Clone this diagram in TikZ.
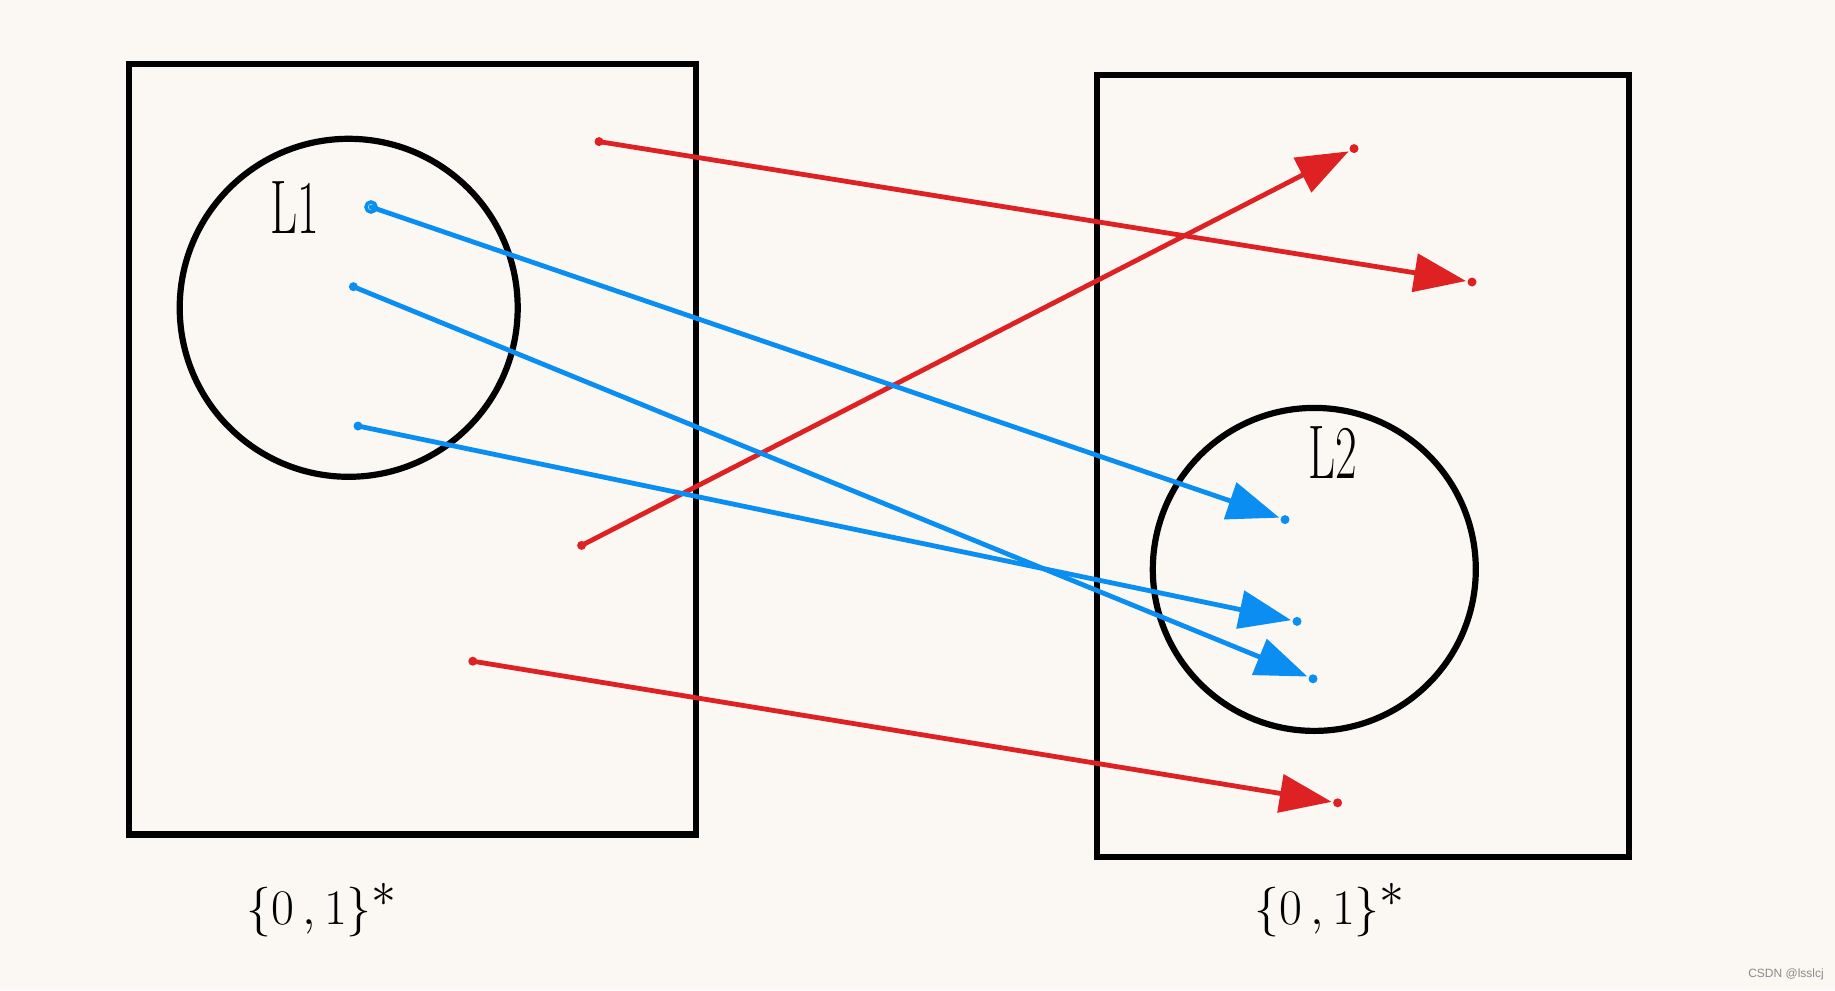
\documentclass[tikz,border=0pt]{standalone}
\usepackage{fontspec}
\newfontfamily\wmfont{Liberation Sans}
\usetikzlibrary{arrows.meta}
\definecolor{bg}{HTML}{FBF8F3}
\definecolor{penred}{HTML}{DE2224}
\definecolor{penblue}{HTML}{0A8EF2}
\definecolor{wmgray}{HTML}{8A8A8A}
\tikzset{
  setbox/.style={draw=black, line width=3.1pt, inner sep=0pt, outer sep=0pt},
  langcirc/.style={draw=black, line width=3.1pt, circle, inner sep=0pt, outer sep=0pt},
  hand/.style={font=\fontsize{38}{38}\selectfont, inner sep=0pt},
  mapred/.style={draw=penred, line width=2.4pt, line cap=round, -{Triangle[length=26pt,width=19pt]}, shorten >=3pt},
  mapblue/.style={draw=penblue, line width=2.4pt, line cap=round, -{Triangle[length=26pt,width=19pt]}, shorten >=3pt},
  penDot/.style={circle, inner sep=0pt, minimum size=4.5pt},
}
\begin{document}
\begin{tikzpicture}[x=0.5pt,y=-0.5pt]
\fill[bg] (0,0) rectangle (1835,990);
\useasboundingbox (0,0) rectangle (1835,990);

% sets
\node[setbox, minimum width=283.8pt, minimum height=385pt] (U1) at (412.5,449.4) {};
\node[setbox, minimum width=266.2pt, minimum height=390.9pt] (U2) at (1362.8,465.8) {};
\node[langcirc, minimum size=169pt] (C1) at (348.7,307.8) {};
\node[langcirc, minimum size=161.5pt] (C2) at (1314.3,569.4) {};

% labels
\node[hand] (L1) at (295,208) {\scalebox{0.62}[1]{L1}};
\node[hand] (L2) at (1333,453) {\scalebox{0.62}[1]{L2}};
\node[hand] (S1) at (322,910) {$\{0\,,1\}^{*}$};
\node[hand] (S2) at (1330,910) {$\{0\,,1\}^{*}$};
\node[font=\wmfont\fontsize{6}{6}\selectfont, text=wmgray, inner sep=0pt] (wm) at (1786,974) {CSDN @lsslcj};

% endpoints
\coordinate (r1s) at (599,141.6);   \coordinate (r1e) at (1472,282);
\coordinate (r2s) at (581.6,545.4); \coordinate (r2e) at (1354,148.6);
\coordinate (r3s) at (472.8,661.2); \coordinate (r3e) at (1337.6,802.8);
\coordinate (b1s) at (371,207);     \coordinate (b1e) at (1285,519.6);
\coordinate (b2s) at (353.4,286.7); \coordinate (b2e) at (1313,678.8);
\coordinate (b3s) at (358,426);     \coordinate (b3e) at (1297,621.4);

% pen dots
\foreach \p in {r1s,r2s,r3s,r1e,r2e,r3e}{\node[penDot, fill=penred] at (\p) {};}
\foreach \p in {b2s,b3s,b1e,b2e,b3e}{\node[penDot, fill=penblue] at (\p) {};}
\node[penDot, draw=penblue, line width=1.8pt, minimum size=5pt] at (b1s) {};

% mappings
\draw[mapred] (r1s) -- (r1e);
\draw[mapred] (r2s) -- (r2e);
\draw[mapred] (r3s) -- (r3e);
\draw[mapblue] (b1s) -- (b1e);
\draw[mapblue] (b2s) -- (b2e);
\draw[mapblue] (b3s) -- (b3e);
\end{tikzpicture}
\end{document}
